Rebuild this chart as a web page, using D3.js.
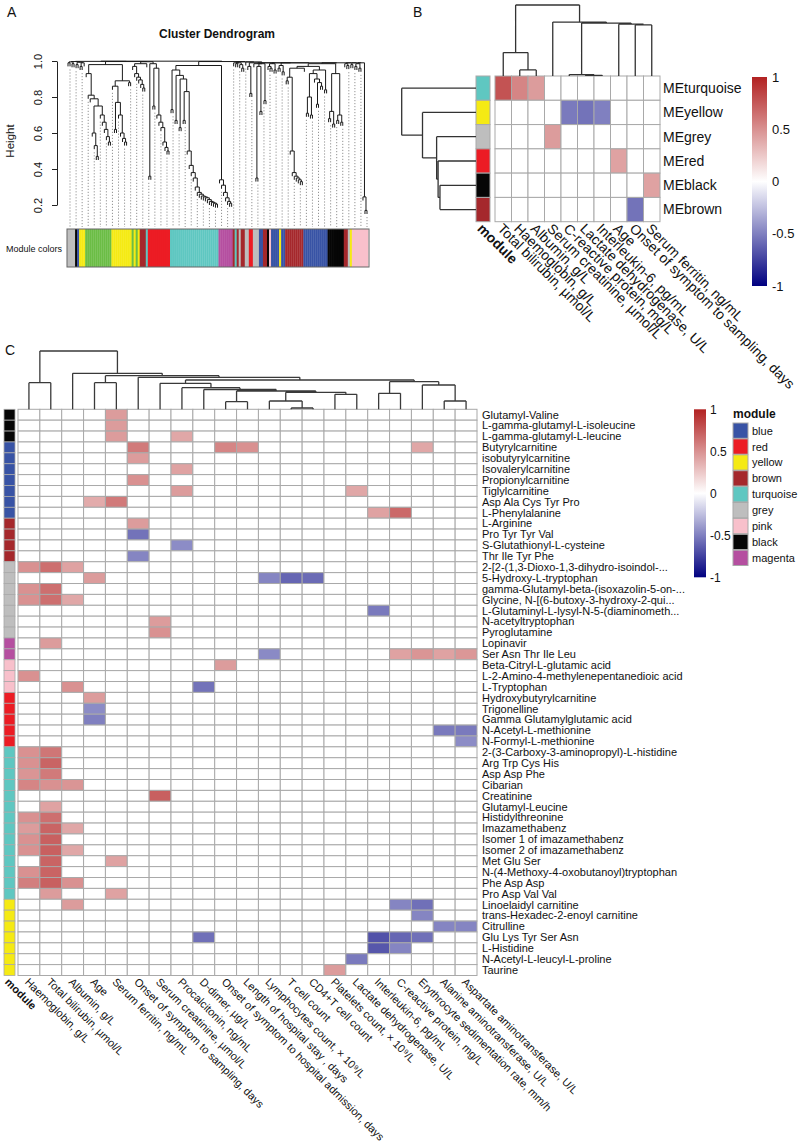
<!DOCTYPE html>
<html><head><meta charset="utf-8">
<script src="https://cdn.jsdelivr.net/npm/d3@7"></script>
<style>body{margin:0;background:#fff}svg{display:block}text{font-family:"Liberation Sans",Arial,sans-serif;fill:#111}</style>
</head><body><svg id="c" width="800" height="1145"></svg>
<script>
// ---------------- DATA ----------------
const moduleColor = {grey:"#bebebe", black:"#060606", blue:"#3853a5", yellow:"#f5ea14", green:"#6bbd45",
  brown:"#a5282c", turquoise:"#5fc7c1", red:"#ec1c24", magenta:"#b54fa0", pink:"#f8c0cb"};

// Panel A: module colour runs of leaves (left to right) and merge heights between adjacent leaves
const aModuleRuns = [["grey",4],["black",1],["blue",1],["yellow",3],["green",13],["yellow",10],["green",1],["yellow",1],["green",1],["yellow",1],["brown",3],["turquoise",1],["red",11],["turquoise",24],["magenta",7],["brown",1],["turquoise",1],["brown",1],["grey",1],["brown",2],["grey",2],["red",2],["grey",3],["blue",2],["brown",2],["black",1],["pink",1],["blue",4],["yellow",1],["blue",2],["brown",9],["blue",12],["black",8],["brown",2],["grey",1],["yellow",1],["pink",8]];
const aMergeHeights = [
 0.99,0.995,0.985,0.997,0.98,0.993,0.97,0.99,0.998,
 0.93,0.81,0.79,0.60,0.53,0.47,0.75,0.70,0.66,0.62,0.58,0.55,0.98,
 0.86,0.62,0.77,0.70,0.60,0.57,0.55,0.89,0.88,0.997,
 0.97,0.93,0.91,0.895,0.87,0.85,0.985,0.996,
 0.36,0.985,0.75,0.96,0.70,0.66,0.63,0.55,0.52,0.50,0.999,
 0.73,0.95,0.67,0.92,0.63,0.90,0.67,0.83,0.50,0.42,0.38,0.35,0.30,0.27,0.26,0.25,0.245,0.24,0.23,0.22,0.215,0.21,0.205,0.975,
 0.34,0.31,0.27,0.24,0.22,0.21,0.997,
 0.99,0.985,0.99,0.98,0.96,0.995,0.995,0.97,0.82,0.99,0.985,0.35,0.97,0.72,0.985,0.78,0.99,0.97,0.96,
 0.985,0.95,0.99,0.96,0.975,0.94,0.99,
 0.89,0.91,0.50,0.38,0.36,0.35,0.34,0.33,0.96,
 0.97,0.71,0.80,0.70,0.93,0.90,0.76,0.88,0.86,0.95,0.84,0.985,
 0.68,0.72,0.65,0.93,0.67,0.70,0.66,0.99,
 0.985,0.975,0.99,0.98,
 0.99,0.97,0.985,0.96,0.99,0.245,0.17];
const aTicks = [0.2,0.4,0.6,0.8,1.0];

// Panel B
const bRows = ["MEturquoise","MEyellow","MEgrey","MEred","MEblack","MEbrown"];
const bRowModules = ["turquoise","yellow","grey","red","black","brown"];
const bCols = ["Total bilirubin, µmol/L","Haemoglobin, g/L","Albumin, g/L","Serum creatinine, µmol/L","C-reactive protein, mg/L","Lactate dehydrogenase, U/L","Interleukin-6, pg/mL","Age","Onset of symptom to sampling, days","Serum ferritin, ng/mL"];
const bValues = [
 [0.78,0.55,0.45,0,0,0,0,0,0,0],
 [0,0,0,0,-0.52,-0.55,-0.5,0,0,0],
 [0,0,0,0.45,0,0,0,0,0,0],
 [0,0,0,0,0,0,0,0.42,0,0],
 [0,0,0,0,0,0,0,0,0,0.42],
 [0,0,0,0,0,0,0,0,-0.55,0]];
const bColMerge = [0.33,0.085,1.0,0.76,0.02,0.01,0.745,0.73,0.72];
const bRowMerge = [1.0,0.72,0.53,0.51,0.485];
const legendTicks = [1,0.5,0,-0.5,-1];

// Panel C
const cRows = ["Glutamyl-Valine","L-gamma-glutamyl-L-isoleucine","L-gamma-glutamyl-L-leucine","Butyrylcarnitine","isobutyrylcarnitine","Isovalerylcarnitine","Propionylcarnitine","Tiglylcarnitine","Asp Ala Cys Tyr Pro","L-Phenylalanine","L-Arginine","Pro Tyr Tyr Val","S-Glutathionyl-L-cysteine","Thr Ile Tyr Phe","2-[2-(1,3-Dioxo-1,3-dihydro-isoindol-...","5-Hydroxy-L-tryptophan","gamma-Glutamyl-beta-(isoxazolin-5-on-...","Glycine, N-[(6-butoxy-3-hydroxy-2-qui...","L-Glutaminyl-L-lysyl-N-5-(diaminometh...","N-acetyltryptophan","Pyroglutamine","Lopinavir","Ser Asn Thr Ile Leu","Beta-Citryl-L-glutamic acid","L-2-Amino-4-methylenepentanedioic acid","L-Tryptophan","Hydroxybutyrylcarnitine","Trigonelline","Gamma Glutamylglutamic acid","N-Acetyl-L-methionine","N-Formyl-L-methionine","2-(3-Carboxy-3-aminopropyl)-L-histidine","Arg Trp Cys His","Asp Asp Phe","Cibarian","Creatinine","Glutamyl-Leucine","Histidylthreonine","Imazamethabenz","Isomer 1 of imazamethabenz","Isomer 2 of imazamethabenz","Met Glu Ser","N-(4-Methoxy-4-oxobutanoyl)tryptophan","Phe Asp Asp","Pro Asp Val Val","Linoelaidyl carnitine","trans-Hexadec-2-enoyl carnitine","Citrulline","Glu Lys Tyr Ser Asn","L-Histidine","N-Acetyl-L-leucyl-L-proline","Taurine"];
const cRowModuleRuns = [["black",3],["blue",7],["brown",4],["grey",7],["magenta",2],["pink",3],["red",5],["turquoise",14],["yellow",7]];
const cCols = ["Haemoglobin, g/L","Total bilirubin, µmol/L","Albumin, g/L","Age","Serum ferritin, ng/mL","Onset of symptom to sampling, days","Serum creatinine, µmol/L","Procalcitonin, ng/mL","D-dimer, µg/L","Onset of symptom to hospital admission, days","Length of hospital stay , days","Lymphocytes count, × 10⁹/L","T cell count","CD4+T cell count","Platelets count, × 10⁹/L","Lactate dehydrogenase, U/L","Interleukin-6, pg/mL","C-reactive protein, mg/L","Erythrocyte sedimentation rate, mm/h","Alanine aminotransferase, U/L","Aspartate aminotransferase, U/L"];
const cColMerge = [0.456,1.0,0.617,0.456,0.576,0.549,0.446,0.371,0.34,0.13,0.314,0.142,0.022,0.292,0.257,0.503,0.274,0.473,0.417,0.142];
// [row, column, correlation]
const cCells = [[0,4,0.45],[1,4,0.45],[2,4,0.45],[2,7,0.4],
 [3,5,0.6],[3,9,0.55],[3,10,0.5],[3,18,0.4],
 [4,5,0.45],[5,7,0.42],[6,5,0.5],[7,7,0.45],[7,15,0.4],
 [8,3,0.38],[8,4,0.6],[9,16,0.42],[9,17,0.68],
 [10,5,0.45],[11,5,-0.55],[12,7,-0.45],[13,5,-0.48],
 [14,0,0.5],[14,1,0.65],[14,2,0.42],
 [15,3,0.45],[15,11,-0.48],[15,12,-0.6],[15,13,-0.58],
 [16,0,0.5],[16,1,0.65],[17,0,0.5],[17,1,0.65],[17,2,0.4],
 [18,16,-0.52],[19,6,0.45],[20,6,0.5],[21,1,0.45],
 [22,11,-0.46],[22,17,0.42],[22,18,0.48],[22,19,0.42],[22,20,0.47],
 [23,9,0.45],[24,0,0.5],[25,2,0.5],[25,8,-0.55],
 [26,3,0.45],[27,3,-0.45],[28,3,-0.5],
 [29,19,-0.52],[29,20,-0.52],[30,20,-0.45],
 [31,0,0.5],[31,1,0.62],[32,0,0.5],[32,1,0.7],[33,0,0.48],[33,1,0.6],
 [34,0,0.55],[34,1,0.5],[34,2,0.48],[35,6,0.72],[36,1,0.42],
 [37,0,0.5],[37,1,0.65],[38,0,0.45],[38,1,0.7],[38,2,0.4],
 [39,0,0.5],[39,1,0.72],[40,0,0.5],[40,1,0.72],[40,2,0.4],
 [41,1,0.7],[41,4,0.42],[42,0,0.5],[42,1,0.7],
 [43,0,0.58],[43,1,0.72],[43,2,0.5],[44,1,0.45],[44,4,0.42],
 [45,2,0.45],[45,17,-0.48],[45,18,-0.56],[46,18,-0.48],
 [47,19,-0.48],[47,20,-0.48],
 [48,8,-0.56],[48,16,-0.68],[48,17,-0.6],[48,18,-0.56],
 [49,16,-0.66],[49,17,-0.48],[50,15,-0.52],[51,14,0.45]];
const cLegendModules = ["blue","red","yellow","brown","turquoise","grey","pink","black","magenta"];

// ---------------- HELPERS ----------------
const svg = d3.select("#c");
const heat = d3.scaleLinear().domain([-1,0,1]).range(["#000080","#ffffff","#b22222"]);
const expand = runs => runs.flatMap(([c,n]) => d3.range(n).map(() => c));

function buildTree(gaps, lo, hi, pos) {
  if (lo === hi) return {leaf:true, i:lo, x:pos(lo), h:0};
  let k = lo;
  for (let j = lo; j < hi; j++) if (gaps[j] > gaps[k]) k = j;
  const L = buildTree(gaps, lo, k, pos), R = buildTree(gaps, k + 1, hi, pos);
  return {leaf:false, h:gaps[k], x:(L.x + R.x) / 2, left:L, right:R};
}
function treePath(root, toXY, leafBottom, tips) {
  const p = d3.path();
  (function rec(n) {
    if (n.leaf) return;
    let [x1,y1] = toXY(n.left.x, n.h), [x2,y2] = toXY(n.right.x, n.h);
    p.moveTo(x1,y1); p.lineTo(x2,y2);
    for (const c of [n.left, n.right]) {
      const ch = c.leaf ? leafBottom(n.h) : c.h;
      if (c.leaf && tips) tips[c.i] = ch;
      const [a,b] = toXY(c.x, n.h), [a2,b2] = toXY(c.x, ch);
      p.moveTo(a,b); p.lineTo(a2,b2);
      rec(c);
    }
  })(root);
  return p.toString();
}
function label(x, y, t, size, opts = {}) {
  const e = svg.append("text").attr("x", x).attr("y", y).text(t).style("font-size", size + "px");
  if (opts.bold) e.style("font-weight", "bold");
  if (opts.anchor) e.attr("text-anchor", opts.anchor);
  return e;
}
function gradientLegend(id, x, y, w, h, fs, lx) {
  const grad = svg.append("defs").append("linearGradient").attr("id", id)
    .attr("x1",0).attr("y1",0).attr("x2",0).attr("y2",1);
  d3.range(0, 21).forEach(i => grad.append("stop").attr("offset", i/20).attr("stop-color", heat(1 - i/10)));
  svg.append("rect").attr("x",x).attr("y",y).attr("width",w).attr("height",h).attr("fill",`url(#${id})`);
  const s = d3.scaleLinear().domain([1,-1]).range([y, y + h]);
  legendTicks.forEach(v => label(lx, s(v), String(v), fs).attr("dy","0.35em"));
}

// ---------------- PANEL A ----------------
label(7, 17, "A", 14);
label(217, 38, "Cluster Dendrogram", 12, {bold:true, anchor:"middle"});
const aMods = expand(aModuleRuns);
const xA = d3.scalePoint().domain(d3.range(aMods.length)).range([68, 367]);
const yA = d3.scaleLinear().domain([0.2, 1.0]).range([205, 61]);
const aTree = buildTree(aMergeHeights, 0, aMods.length - 1, i => xA(i));
const tips = [];
const hang = 0.02;
svg.append("path").attr("d", treePath(aTree, (x,h) => [x, yA(h)], h => h - hang, tips))
  .attr("fill","none").attr("stroke","#1a1a1a").attr("stroke-width",1);
// guide lines
svg.append("g").selectAll("line").data(d3.range(1, aMods.length, 3)).join("line")
  .attr("x1", i => xA(i)).attr("x2", i => xA(i))
  .attr("y1", i => yA(tips[i]) + 3).attr("y2", 227)
  .attr("stroke","#666").attr("stroke-width",0.7).attr("stroke-dasharray","1.2,1.8");
const axA = svg.append("g").attr("transform","translate(57,0)")
  .call(d3.axisLeft(yA).tickValues(aTicks).tickSize(5).tickSizeOuter(0).tickFormat(d3.format(".1f")));
axA.select(".domain").attr("stroke","#222");
axA.selectAll(".tick line").attr("stroke","#222");
axA.selectAll(".tick text").attr("x",0).attr("dy",0).attr("text-anchor","middle")
  .attr("transform","translate(-15,0) rotate(-90)").style("font-size","11px")
  .style("font-family",'"Liberation Sans",Arial,sans-serif').attr("fill","#111");
label(0, 0, "Height", 11.5, {anchor:"middle"}).attr("transform","translate(14,141) rotate(-90)");
const stepA = xA.step();
svg.append("g").selectAll("rect").data(aMods).join("rect")
  .attr("x", (d,i) => xA(i) - stepA/2).attr("y", 229).attr("width", stepA + 0.3).attr("height", 38)
  .attr("fill", d => moduleColor[d]);
svg.append("rect").attr("x", xA(0) - stepA/2).attr("y",229).attr("width", 300 + stepA).attr("height",38)
  .attr("fill","none").attr("stroke","#666").attr("stroke-width",1);
label(6, 252, "Module colors", 9);

// ---------------- PANEL B ----------------
label(413, 17, "B", 14);
const xB = d3.scaleBand().domain(d3.range(bCols.length)).range([495, 660]);
const yB = d3.scaleBand().domain(d3.range(bRows.length)).range([76, 221.7]);
const gridStroke = "#a9a9a9";
bValues.forEach((row, r) => row.forEach((v, c) => {
  svg.append("rect").attr("x", xB(c)).attr("y", yB(r)).attr("width", xB.bandwidth()).attr("height", yB.bandwidth())
    .attr("fill", heat(v)).attr("stroke", gridStroke).attr("stroke-width", 1);
}));
svg.append("g").selectAll("rect").data(bRowModules).join("rect")
  .attr("x", 476).attr("y", (d,i) => yB(i)).attr("width", 14).attr("height", yB.bandwidth())
  .attr("fill", d => moduleColor[d]).attr("stroke", gridStroke);
bRows.forEach((t, r) => label(663, yB(r) + yB.bandwidth()/2, t, 14).attr("dy","0.35em"));
bCols.forEach((t, c) => label(0, 0, t, 14).attr("dy","0.35em")
  .attr("transform", `translate(${xB(c) + xB.bandwidth()/2 - 3},${226}) rotate(45)`));
label(0, 0, "module", 14, {bold:true}).attr("dy","0.35em").attr("transform", `translate(480,226) rotate(45)`);
// column dendrogram
const bColTree = buildTree(bColMerge, 0, bCols.length - 1, i => xB(i) + xB.bandwidth()/2);
svg.append("path").attr("d", treePath(bColTree, (x,h) => [x, 76 - h*71], () => 0))
  .attr("fill","none").attr("stroke","#333").attr("stroke-width",1.3);
// row dendrogram
const bRowTree = buildTree(bRowMerge, 0, bRows.length - 1, i => yB(i) + yB.bandwidth()/2);
svg.append("path").attr("d", treePath(bRowTree, (y,h) => [476 - h*74.3, y], () => 0))
  .attr("fill","none").attr("stroke","#333").attr("stroke-width",1.3);
gradientLegend("gB", 752, 77, 15, 209, 13, 772);

// ---------------- PANEL C ----------------
label(5, 355, "C", 14);
const xC = d3.scaleBand().domain(d3.range(cCols.length)).range([18, 477]);
const yC = d3.scaleBand().domain(d3.range(cRows.length)).range([409.3, 975.5]);
const cMatrix = cRows.map(() => cCols.map(() => 0));
cCells.forEach(([r,c,v]) => { cMatrix[r][c] = v; });
const gC = svg.append("g");
cMatrix.forEach((row, r) => row.forEach((v, c) => {
  gC.append("rect").attr("x", xC(c)).attr("y", yC(r)).attr("width", xC.bandwidth()).attr("height", yC.bandwidth())
    .attr("fill", heat(v)).attr("stroke", gridStroke).attr("stroke-width", 1);
}));
const cMods = expand(cRowModuleRuns);
svg.append("g").selectAll("rect").data(cMods).join("rect")
  .attr("x", 4).attr("y", (d,i) => yC(i)).attr("width", 11).attr("height", yC.bandwidth())
  .attr("fill", d => moduleColor[d]).attr("stroke", gridStroke).attr("stroke-width", 0.8);
cRows.forEach((t, r) => label(482, yC(r) + yC.bandwidth()/2, t, 11).attr("dy","0.35em"));
cCols.forEach((t, c) => label(0, 0, t, 11).attr("dy","0.35em")
  .attr("transform", `translate(${xC(c) + xC.bandwidth()/2 - 2},${980}) rotate(45)`));
label(0, 0, "module", 11, {bold:true}).attr("dy","0.35em").attr("transform", `translate(7,980) rotate(45)`);
const cColTree = buildTree(cColMerge, 0, cCols.length - 1, i => xC(i) + xC.bandwidth()/2);
svg.append("path").attr("d", treePath(cColTree, (x,h) => [x, 409.3 - h*58.3], () => 0))
  .attr("fill","none").attr("stroke","#3a3a3a").attr("stroke-width",1.3);
gradientLegend("gC", 694, 409.3, 12, 168, 12, 710);
label(733, 418, "module", 12, {bold:true});
cLegendModules.forEach((m, i) => {
  svg.append("rect").attr("x", 733).attr("y", 423 + i*15.9).attr("width", 15).attr("height", 15.3)
    .attr("fill", moduleColor[m]).attr("stroke", gridStroke).attr("stroke-width", 1);
  label(752, 423 + i*15.9 + 7.8, m, 11).attr("dy","0.35em");
});
</script></body></html>
